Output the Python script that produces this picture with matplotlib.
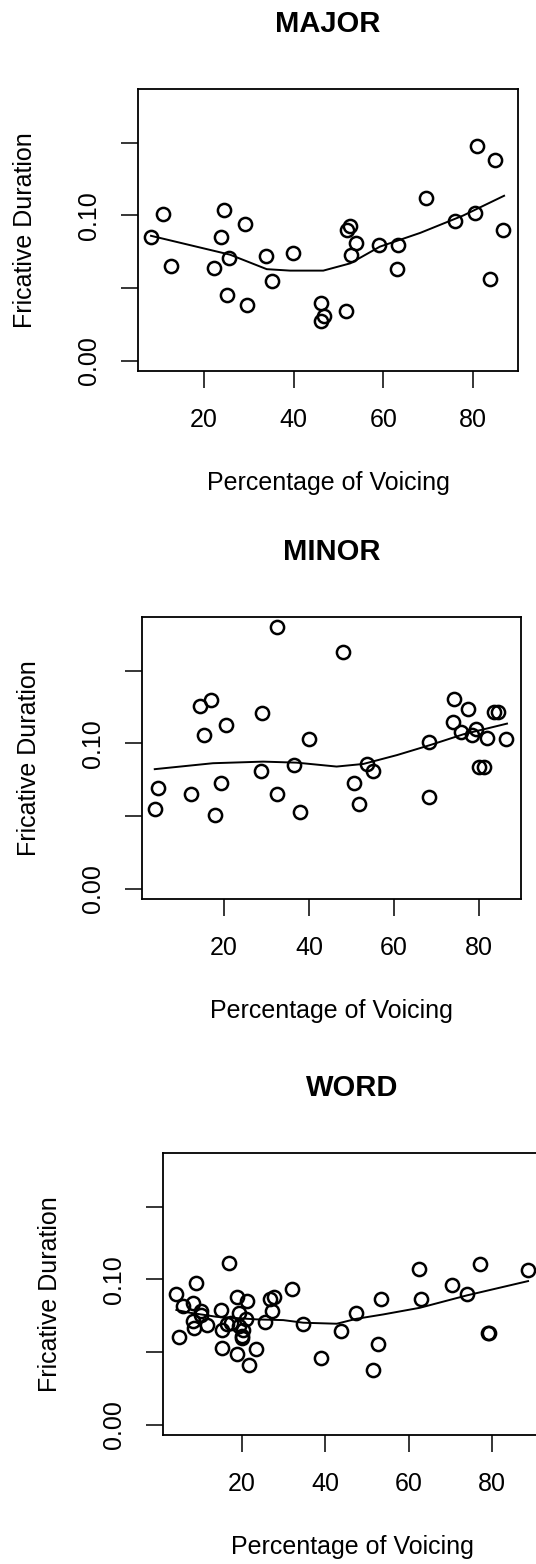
import numpy as np
import matplotlib
matplotlib.use("Agg")
import matplotlib.pyplot as plt

plt.rcParams['font.family'] = ['Liberation Sans', 'DejaVu Sans']

#Figure size in pixels (dpi 100)
W, H = 536, 1564

#MAJOR panel: voicing %, fricative duration
major_x = [8.2, 10.9, 12.6, 22.2, 24.5, 23.9, 25.6, 25.1, 29.1, 29.7, 33.8, 35.2,
           39.8, 46.1, 46.8, 46.1, 51.8, 52.6, 53.8, 52.7, 51.7, 59.1, 63.3, 63.0,
           69.6, 76.0, 80.4, 80.9, 84.8, 83.8, 86.7]
major_y = [0.085, 0.101, 0.065, 0.064, 0.104, 0.085, 0.071, 0.045, 0.094, 0.038, 0.072, 0.055,
           0.074, 0.040, 0.031, 0.027, 0.090, 0.093, 0.081, 0.073, 0.034, 0.080, 0.080, 0.063,
           0.112, 0.096, 0.102, 0.148, 0.138, 0.056, 0.090]
major_fit_x = [8.2, 25.8, 34.0, 39.2, 46.6, 52.6, 59.2, 68.2, 77.8, 86.9]
major_fit_y = [0.086, 0.073, 0.063, 0.062, 0.062, 0.067, 0.0785, 0.088, 0.100, 0.1136]

#MINOR panel
minor_x = [32.4, 47.9, 14.3, 17.0, 15.3, 20.4, 29.0, 39.9, 4.4, 3.7, 12.3, 17.8,
           19.2, 28.6, 32.4, 36.5, 37.9, 50.7, 51.8, 53.6, 55.0, 68.3, 68.3, 74.2,
           77.5, 73.9, 75.8, 79.3, 78.3, 81.9, 86.4, 83.6, 84.6, 79.9, 81.1]
minor_y = [0.180, 0.163, 0.126, 0.130, 0.106, 0.113, 0.121, 0.103, 0.069, 0.055, 0.065, 0.051,
           0.073, 0.081, 0.065, 0.085, 0.053, 0.073, 0.058, 0.086, 0.081, 0.101, 0.063, 0.131,
           0.124, 0.115, 0.108, 0.110, 0.106, 0.104, 0.103, 0.122, 0.122, 0.084, 0.084]
minor_fit_x = [3.7, 17.4, 29.2, 37.1, 46.5, 52.8, 60.7, 68.5, 76.4, 86.6]
minor_fit_y = [0.0823, 0.0864, 0.0875, 0.0868, 0.0841, 0.0859, 0.092, 0.0989, 0.1064, 0.1137]

#WORD panel
word_x = [17.0, 9.2, 4.4, 6.0, 8.3, 5.1, 8.4, 8.7, 10.2, 11.7, 10.4, 15.2,
          15.4, 15.3, 16.6, 18.8, 19.0, 21.3, 19.4, 19.4, 20.2, 21.0, 20.4, 21.8,
          23.5, 25.6, 26.8, 27.7, 27.3, 32.2, 34.8, 39.0, 43.7, 47.4, 51.4, 52.7,
          53.4, 62.5, 62.9, 70.4, 74.0, 77.1, 79.1, 79.3, 88.6, 17.4, 20.0]
word_y = [0.1116, 0.0975, 0.0897, 0.0816, 0.084, 0.0603, 0.0711, 0.0667, 0.0755, 0.0684, 0.078, 0.0787,
          0.0652, 0.0525, 0.069, 0.0483, 0.088, 0.0853, 0.0771, 0.0678, 0.060, 0.0725, 0.0651, 0.0411,
          0.052, 0.0706, 0.0867, 0.0876, 0.0782, 0.0936, 0.069, 0.046, 0.0644, 0.0771, 0.0373, 0.0552,
          0.0867, 0.1074, 0.0867, 0.0959, 0.0897, 0.1109, 0.0633, 0.0628, 0.1065, 0.0702, 0.0609]
word_fit_x = [4.4, 7.6, 14.0, 23.6, 30.0, 34.8, 42.8, 47.5, 53.9, 62.7, 73.9, 88.6]
word_fit_y = [0.079, 0.0771, 0.0743, 0.0725, 0.072, 0.0702, 0.0695, 0.0729, 0.0759, 0.0805, 0.089, 0.0989]

Y_TICKS = [0.0, 0.05, 0.10, 0.15]
Y_LABELS = ["0.00", "", "0.10", ""]
X_TICKS = [20, 40, 60, 80]

#(title, x, y, fit x, fit y, box left/top/right/bottom in px, xlim)
PANELS = [
    ("MAJOR", major_x, major_y, major_fit_x, major_fit_y, (138, 89, 518, 371), (5.3, 90.0)),
    ("MINOR", minor_x, minor_y, minor_fit_x, minor_fit_y, (142, 617, 521, 899), (0.7, 89.9)),
    ("WORD", word_x, word_y, word_fit_x, word_fit_y, (163, 1153, 541, 1435), (1.2, 91.7)),
]

fig = plt.figure(figsize=(W / 100, H / 100), dpi=100)

for title, xs, ys, fx, fy, box, xlim in PANELS:
    left, top, right, bottom = box
    bw, bh = right - left, bottom - top
    ax = fig.add_axes([left / W, 1 - bottom / H, bw / W, bh / H])

    ax.plot(xs, ys, "o", mfc="none", mec="black", ms=9.5, mew=1.8, zorder=3)
    ax.plot(fx, fy, "-", color="black", lw=1.4, zorder=2)

    ax.set_xlim(*xlim)
    ax.set_ylim(-0.0072, 0.1872)

    for sp in ax.spines.values():
        sp.set_linewidth(1.3)

    ax.set_xticks(X_TICKS)
    ax.set_xticklabels([str(t) for t in X_TICKS], fontsize=18, va="center")
    ax.set_yticks(Y_TICKS)
    ax.set_yticklabels(Y_LABELS, fontsize=18, rotation=90, va="center", ha="center")
    ax.tick_params(axis="both", direction="out", length=12.5, width=1.1, pad=23)

    ax.set_xlabel("Percentage of Voicing", fontsize=18, va="center")
    ax.xaxis.set_label_coords(0.5, -112 / bh)
    ax.set_ylabel("Fricative Duration", fontsize=18, va="center", ha="center")
    ax.yaxis.set_label_coords(-113 / bw, 0.5)

    ax.text(0.5, 1 + 65 / bh, title, transform=ax.transAxes, ha="center", va="center",
            fontsize=21, fontweight="bold")

fig.savefig("out.png", dpi=100)
